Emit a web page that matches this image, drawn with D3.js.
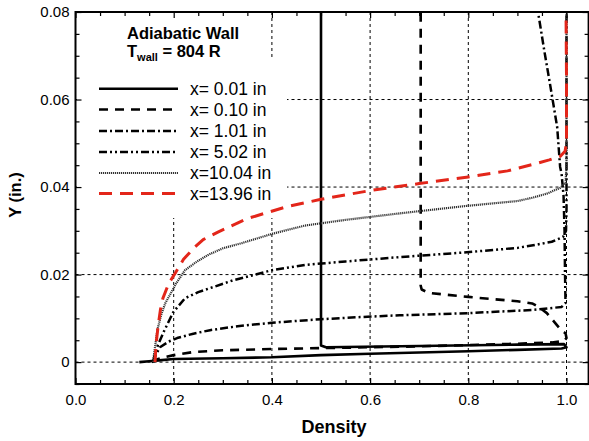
<!DOCTYPE html>
<html>
<head>
<meta charset="utf-8">
<script src="https://cdn.jsdelivr.net/npm/d3@7"></script>
<style>
  html, body { margin: 0; padding: 0; background: #fff; }
  svg { display: block; font-family: "Liberation Sans", Arial, sans-serif; }
</style>
</head>
<body>
<svg id="chart" width="589" height="441"></svg>
<script>
// Density profiles across the boundary layer, adiabatic wall, T_wall = 804 R.
// Each profile is a list of [density, Y (in.)] points.
const profileX001 = [
  [0.130, 0.0000], [0.150, 0.0002], [0.170, 0.0004], [0.200, 0.0007], [0.300, 0.0009],
  [0.400, 0.0011], [0.500, 0.0016], [0.600, 0.0019], [0.700, 0.0022], [0.800, 0.0025],
  [0.900, 0.0028], [0.990, 0.0031], [1.000, 0.0034], [0.995, 0.0041], [0.900, 0.0040],
  [0.700, 0.0037], [0.510, 0.0034], [0.500, 0.0038], [0.500, 0.0800]
];
const profileX010 = [
  [0.155, 0.0000], [0.165, 0.0006], [0.180, 0.0011], [0.200, 0.0016], [0.240, 0.0023],
  [0.300, 0.0027], [0.400, 0.0030], [0.500, 0.0032], [0.600, 0.0034], [0.700, 0.0036],
  [0.800, 0.0039], [0.900, 0.0042], [0.970, 0.0045], [0.995, 0.0048], [1.000, 0.0055],
  [0.998, 0.0066], [0.990, 0.0072], [0.975, 0.0092], [0.960, 0.0112], [0.945, 0.0125],
  [0.930, 0.0134], [0.900, 0.0139], [0.800, 0.0149], [0.720, 0.0158], [0.705, 0.0166],
  [0.703, 0.0175], [0.703, 0.0800]
];
const profileX101 = [
  [0.158, 0.0000], [0.163, 0.0015], [0.172, 0.0034], [0.190, 0.0047], [0.207, 0.0055],
  [0.240, 0.0065], [0.274, 0.0073], [0.330, 0.0082], [0.400, 0.0090], [0.500, 0.0098],
  [0.580, 0.0103], [0.660, 0.0107], [0.800, 0.0112], [0.930, 0.0119], [0.990, 0.0126],
  [0.998, 0.0135], [0.997, 0.0200], [0.996, 0.0300], [0.994, 0.0380], [0.990, 0.0430],
  [0.987, 0.0446], [0.981, 0.0537], [0.966, 0.0638], [0.955, 0.0710], [0.942, 0.0800]
];
const profileX502 = [
  [0.158, 0.0000], [0.162, 0.0020], [0.168, 0.0039], [0.180, 0.0070], [0.199, 0.0114],
  [0.223, 0.0146], [0.250, 0.0160], [0.274, 0.0169], [0.321, 0.0187], [0.400, 0.0210],
  [0.467, 0.0222], [0.550, 0.0230], [0.661, 0.0240], [0.797, 0.0251], [0.900, 0.0261],
  [0.932, 0.0267], [0.970, 0.0275], [0.993, 0.0286], [0.999, 0.0300], [1.000, 0.0350],
  [1.000, 0.0800]
];
const profileX1004 = [
  [0.158, 0.0000], [0.162, 0.0035], [0.167, 0.0075], [0.175, 0.0110], [0.183, 0.0135],
  [0.192, 0.0153], [0.205, 0.0180], [0.223, 0.0210], [0.245, 0.0228], [0.270, 0.0245],
  [0.300, 0.0260], [0.339, 0.0272], [0.400, 0.0293], [0.467, 0.0312], [0.550, 0.0325],
  [0.661, 0.0340], [0.797, 0.0357], [0.900, 0.0368], [0.932, 0.0376], [0.960, 0.0385],
  [0.987, 0.0398], [0.998, 0.0410], [1.000, 0.0450], [1.000, 0.0800]
];
const profileX1396 = [
  [0.162, 0.0000], [0.164, 0.0040], [0.168, 0.0080], [0.173, 0.0120], [0.178, 0.0146],
  [0.190, 0.0180], [0.203, 0.0203], [0.220, 0.0235], [0.243, 0.0263], [0.260, 0.0280],
  [0.290, 0.0297], [0.350, 0.0328], [0.430, 0.0355], [0.500, 0.0372], [0.600, 0.0392],
  [0.700, 0.0408], [0.800, 0.0423], [0.880, 0.0437], [0.932, 0.0452], [0.965, 0.0462],
  [0.987, 0.0470], [0.997, 0.0482], [1.000, 0.0500], [1.000, 0.0650], [0.999, 0.0800]
];

const seriesLabels = ["x= 0.01 in", "x= 0.10 in", "x= 1.01 in", "x= 5.02 in", "x=10.04 in", "x=13.96 in"];
const seriesData = [profileX001, profileX010, profileX101, profileX502, profileX1004, profileX1396];

const xTickValues = [0, 0.2, 0.4, 0.6, 0.8, 1.0];
const xTickLabels = ["0.0", "0.2", "0.4", "0.6", "0.8", "1.0"];
const yTickValues = [0, 0.02, 0.04, 0.06, 0.08];
const yTickLabels = ["0", "0.02", "0.04", "0.06", "0.08"];

// Line styles, one per profile
const styles = [
  { stroke: "#000", width: 2.6, dash: null },
  { stroke: "#000", width: 2.6, dash: "9,7" },
  { stroke: "#000", width: 2.5, dash: "8,3,2,3" },
  { stroke: "#000", width: 2.5, dash: "8,3,2,3,2,3" },
  { stroke: "#333", width: 2.2, dash: "1.2,0.8" },
  { stroke: "#e3261a", width: 3.0, dash: "13,8" }
];

const svg = d3.select("#chart");
const L = 75.5, R = 588.6, T = 12, B = 384;

const x = d3.scaleLinear().domain([0, 1.045]).range([L, R]);
const y = d3.scaleLinear().domain([-0.005, 0.08]).range([B, T]);

svg.append("defs").append("clipPath").attr("id", "plotClip")
  .append("rect").attr("x", L).attr("y", T).attr("width", R - L).attr("height", B - T);

// Grid lines at major ticks
const grid = svg.append("g");
grid.selectAll("line.gx").data(xTickValues.filter(v => v > 0)).join("line")
  .attr("x1", d => x(d)).attr("x2", d => x(d)).attr("y1", T).attr("y2", B)
  .attr("stroke", "#000").attr("stroke-width", 1).attr("stroke-dasharray", "3,3");
grid.selectAll("line.gy").data(yTickValues.filter(v => v < 0.08)).join("line")
  .attr("y1", d => y(d)).attr("y2", d => y(d)).attr("x1", L).attr("x2", R)
  .attr("stroke", "#000").attr("stroke-width", 1).attr("stroke-dasharray", "3,3");

// White panels behind the title and legend
svg.append("rect").attr("x", 110).attr("y", T + 1).attr("width", 148).attr("height", 46).attr("fill", "#fff");
svg.append("rect").attr("x", L + 1.5).attr("y", 58).attr("width", 287 - L - 1.5).attr("height", 160).attr("fill", "#fff");

// Profiles
const plot = svg.append("g").attr("clip-path", "url(#plotClip)");
const line = d3.line().x(d => x(d[0])).y(d => y(d[1]));
seriesData.forEach((data, i) => {
  const s = styles[i];
  plot.append("path").datum(data)
    .attr("d", line)
    .attr("fill", "none").attr("stroke", s.stroke).attr("stroke-width", s.width)
    .attr("stroke-dasharray", s.dash).attr("stroke-linejoin", "round");
});

// Axes with inward ticks on all four sides
function minorValues(a, b, step) {
  const out = [];
  for (let v = a; v <= b + 1e-9; v += step) out.push(+v.toFixed(4));
  return out;
}
const xMinor = minorValues(0, 1.04, 0.05).filter(v => !xTickValues.some(m => Math.abs(m - v) < 1e-6));
const yMinor = minorValues(-0.005, 0.08, 0.005).filter(v => !yTickValues.some(m => Math.abs(m - v) < 1e-6));

const axisG = svg.append("g").attr("font-size", 15);
axisG.append("g").attr("transform", `translate(0,${B})`)
  .call(d3.axisBottom(x).tickValues(xTickValues).tickSize(-6).tickPadding(10)
    .tickFormat((d, i) => xTickLabels[i]));
axisG.append("g").attr("transform", `translate(0,${B})`)
  .call(d3.axisBottom(x).tickValues(xMinor).tickSize(-4).tickFormat(""));
axisG.append("g").attr("transform", `translate(0,${T})`)
  .call(d3.axisTop(x).tickValues(xTickValues).tickSize(-6).tickFormat(""));
axisG.append("g").attr("transform", `translate(0,${T})`)
  .call(d3.axisTop(x).tickValues(xMinor).tickSize(-4).tickFormat(""));
axisG.append("g").attr("transform", `translate(${L},0)`)
  .call(d3.axisLeft(y).tickValues(yTickValues).tickSize(-6).tickPadding(6)
    .tickFormat((d, i) => yTickLabels[i]));
axisG.append("g").attr("transform", `translate(${L},0)`)
  .call(d3.axisLeft(y).tickValues(yMinor).tickSize(-4).tickFormat(""));
axisG.append("g").attr("transform", `translate(${R},0)`)
  .call(d3.axisRight(y).tickValues(yTickValues).tickSize(-6).tickFormat(""));
axisG.append("g").attr("transform", `translate(${R},0)`)
  .call(d3.axisRight(y).tickValues(yMinor).tickSize(-4).tickFormat(""));

axisG.selectAll(".domain").remove();
axisG.selectAll(".tick line").attr("stroke", "#000").attr("stroke-width", 1.2);
axisG.selectAll(".tick text").attr("fill", "#000")
  .attr("font-family", "'Liberation Sans', Arial, sans-serif").attr("font-size", 15);

// Frame
svg.append("rect").attr("x", L).attr("y", T).attr("width", R - L).attr("height", B - T)
  .attr("fill", "none").attr("stroke", "#000").attr("stroke-width", 2);

// Axis titles
svg.append("text").attr("x", (x(0) + x(1.0)) / 2 + 13).attr("y", 432.5)
  .attr("text-anchor", "middle").attr("font-weight", "bold").attr("font-size", 18)
  .text("Density");
svg.append("text").attr("transform", "translate(21,195) rotate(-90)")
  .attr("text-anchor", "middle").attr("font-weight", "bold").attr("font-size", 16.5)
  .text("Y (in.)");

// Title
svg.append("text").attr("x", 127).attr("y", 38.5).attr("font-weight", "bold").attr("font-size", 16.5)
  .text("Adiabatic Wall");
const t2 = svg.append("text").attr("x", 127).attr("y", 57).attr("font-weight", "bold").attr("font-size", 16.5);
t2.append("tspan").text("T");
t2.append("tspan").attr("font-size", 11).attr("dy", 4).text("wall");
t2.append("tspan").attr("dy", -4).text(" = 804 R");

// Legend
const legendRows = [88.7, 109.5, 131, 152, 173, 193.5];
const legend = svg.append("g");
seriesLabels.forEach((lab, i) => {
  const s = styles[i];
  legend.append("line").attr("x1", 99).attr("x2", 178).attr("y1", legendRows[i]).attr("y2", legendRows[i])
    .attr("stroke", s.stroke).attr("stroke-width", s.width).attr("stroke-dasharray", s.dash);
  legend.append("text").attr("x", 190).attr("y", legendRows[i] + 6).attr("font-size", 17.5).text(lab);
});
</script>
</body>
</html>
